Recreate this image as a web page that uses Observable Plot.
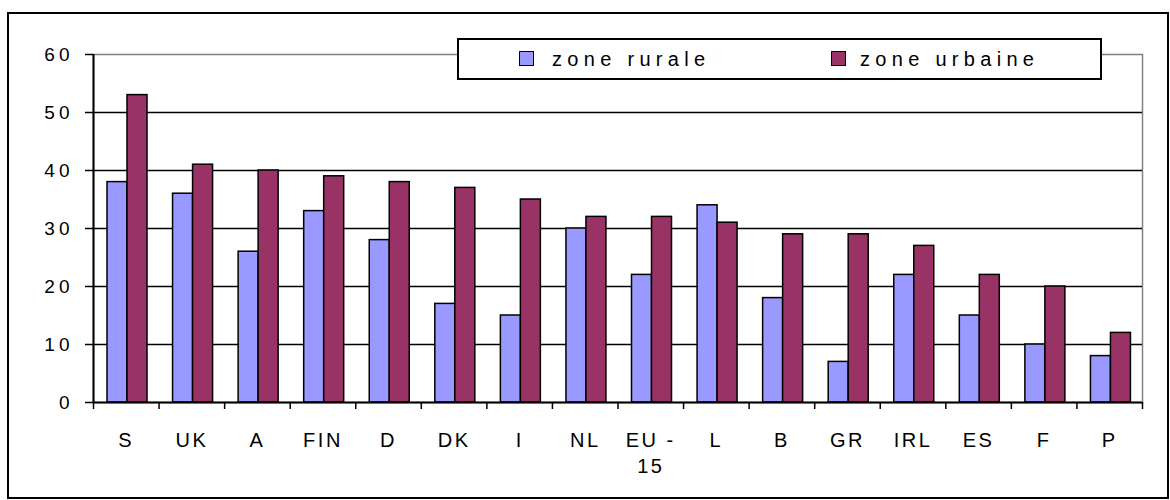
<!DOCTYPE html>
<html>
<head>
<meta charset="utf-8">
<script src="https://cdn.jsdelivr.net/npm/d3@7"></script>
<script src="https://cdn.jsdelivr.net/npm/@observablehq/plot@0.6"></script>
<style>
  html, body { margin: 0; padding: 0; background: #fff; }
  #wrap { position: relative; width: 1170px; height: 500px; overflow: hidden; font-family: "Liberation Sans", Arial, sans-serif; }
  #border { position: absolute; left: 7px; top: 12px; width: 1162px; height: 487px; box-sizing: border-box; border: 2px solid #000; pointer-events: none; }
  #legend { position: absolute; left: 457px; top: 38px; width: 645px; height: 42px; box-sizing: border-box; border: 2px solid #000; background: #fff; z-index: 2; }
  .sw { position: absolute; width: 15px; height: 15px; box-sizing: border-box; border: 1.5px solid #000; top: 11px; }
  .lt { position: absolute; top: 8px; font-size: 20px; letter-spacing: 5.3px; line-height: 22px; color: #000; white-space: nowrap; }
  #chart g[aria-label="x-axis tick label"] { letter-spacing: 2.5px; }
</style>
</head>
<body>
<div id="wrap">
  <div id="chart"></div>
  <div id="legend"></div>
  <div id="border"></div>
</div>
<script>
// ---- data ----
const countries = ["S", "UK", "A", "FIN", "D", "DK", "I", "NL", "EU - 15", "L", "B", "GR", "IRL", "ES", "F", "P"];
const countryLabels = ["S", "UK", "A", "FIN", "D", "DK", "I", "NL", "EU -\n15", "L", "B", "GR", "IRL", "ES", "F", "P"];
const rural = [38, 36, 26, 33, 28, 17, 15, 30, 22, 34, 18, 7, 22, 15, 10, 8];
const urban = [53, 41, 40, 39, 38, 37, 35, 32, 32, 31, 29, 29, 27, 22, 20, 12];
const seriesNames = ["zone rurale", "zone urbaine"];
const seriesColors = ["#9999FF", "#993366"];
const yTicks = [0, 10, 20, 30, 40, 50, 60];
const gridValues = [10, 20, 30, 40, 50];

// ---- layout ----
const W = 1170, H = 500, mL = 93, mR = 28, mT = 54, mB = 98;
const bw = (W - mL - mR) / countries.length;
const labelOf = new Map(countries.map((c, i) => [c, countryLabels[i]]));

const ruralData = countries.map((c, i) => ({country: c, value: rural[i]}));
const urbanData = countries.map((c, i) => ({country: c, value: urban[i]}));

const chart = Plot.plot({
  width: W, height: H,
  marginLeft: mL, marginRight: mR, marginTop: mT, marginBottom: mB,
  style: {fontFamily: "'Liberation Sans', Arial, sans-serif", letterSpacing: "4px", background: "transparent", color: "#000"},
  x: {domain: countries, padding: 0, round: false, label: null},
  y: {domain: [0, 60], label: null},
  marks: [
    Plot.frame({stroke: "#808080", strokeWidth: 1.5}),
    Plot.ruleY(gridValues, {stroke: "#000", strokeWidth: 1.5}),
    Plot.barY(ruralData, {x: "country", y: "value", fill: seriesColors[0], stroke: "#000", strokeWidth: 1.5, insetLeft: 14, insetRight: bw - 34}),
    Plot.barY(urbanData, {x: "country", y: "value", fill: seriesColors[1], stroke: "#000", strokeWidth: 1.5, insetLeft: 34, insetRight: bw - 54}),
    Plot.ruleY([0], {stroke: "#000", strokeWidth: 2}),
    Plot.ruleX([countries[0]], {x: d => d, dx: -bw / 2, stroke: "#000", strokeWidth: 2}),
    Plot.ruleX(countries, {x: d => d, y1: 0, y2: 0, insetBottom: -7, dx: -bw / 2, stroke: "#000", strokeWidth: 1.5}),
    Plot.ruleX([countries[countries.length - 1]], {x: d => d, y1: 0, y2: 0, insetBottom: -7, dx: bw / 2, stroke: "#000", strokeWidth: 1.5}),
    Plot.axisY(yTicks, {tickSize: 8, tickPadding: 12, fontSize: 19, strokeWidth: 1.5, label: null}),
    Plot.axisX({tickSize: 0, tickPadding: 26, fontSize: 20, lineHeight: 1.3, label: null, tickFormat: d => labelOf.get(d)})
  ]
});
document.getElementById("chart").appendChild(chart);

// ---- legend ----
const legend = document.getElementById("legend");
const swX = [60, 372], txX = [93, 401];
seriesNames.forEach((name, i) => {
  const sw = document.createElement("div");
  sw.className = "sw";
  sw.style.left = swX[i] + "px";
  sw.style.background = seriesColors[i];
  legend.appendChild(sw);
  const t = document.createElement("div");
  t.className = "lt";
  t.style.left = txX[i] + "px";
  t.textContent = name;
  legend.appendChild(t);
});
</script>
</body>
</html>
